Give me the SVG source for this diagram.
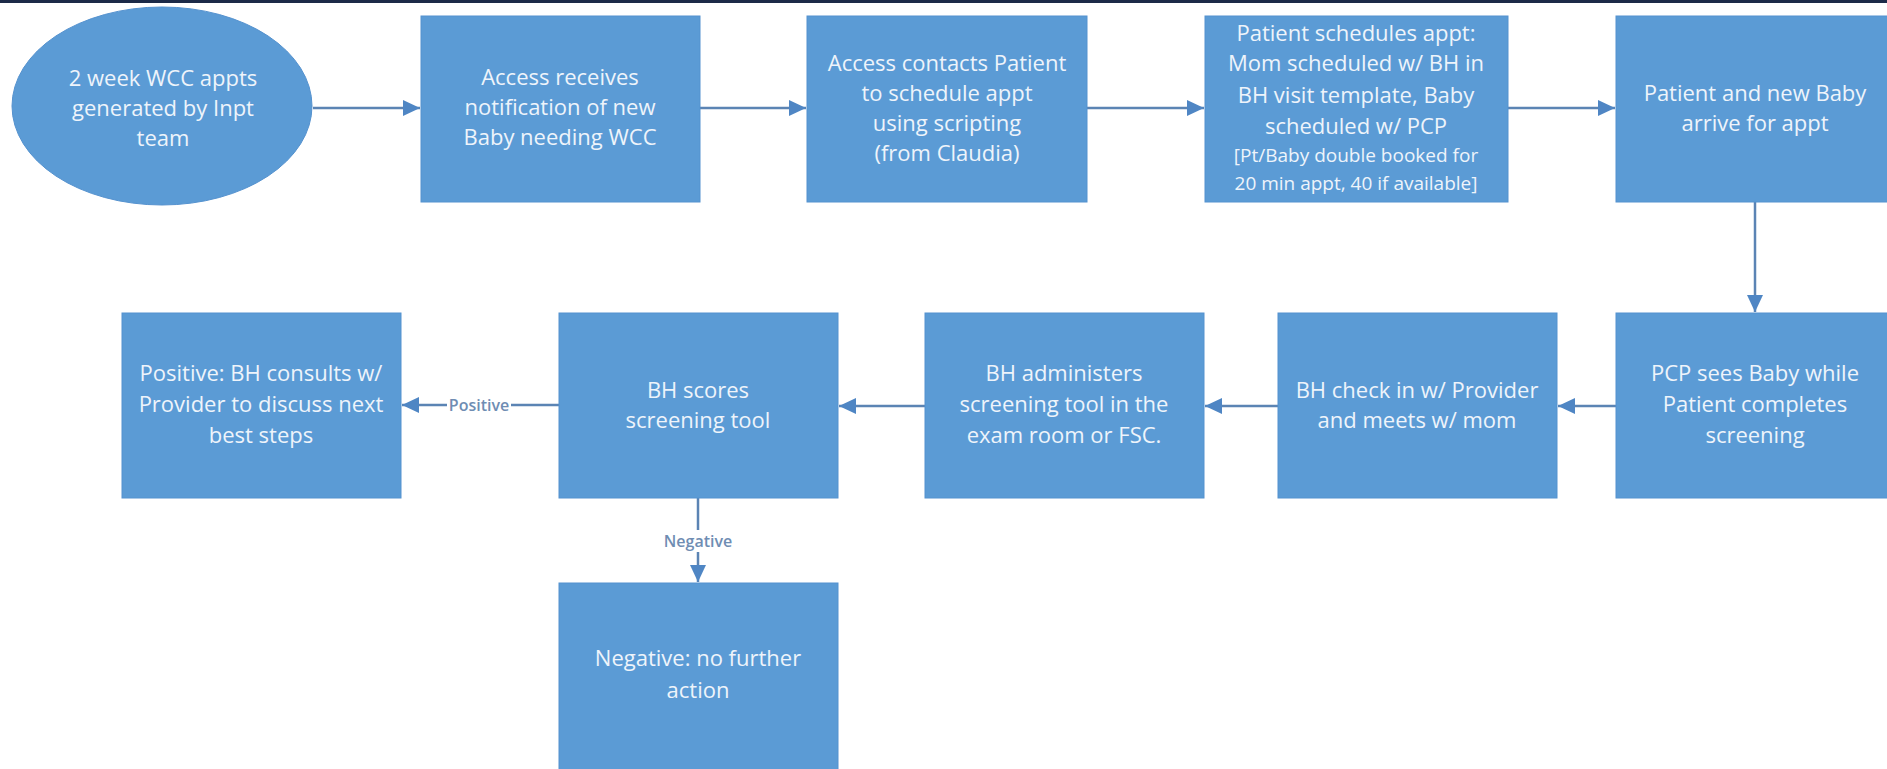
<svg xmlns="http://www.w3.org/2000/svg" width="1887" height="769" viewBox="0 0 1887 769">
  <style>
    .node { fill: #5b9bd5; stroke: #5592cf; stroke-width: 1; }
    .txt { font-family: "Open Sans", "Liberation Sans", sans-serif; font-size: 22px; fill: #eef4fb; text-anchor: middle; }
    .sm { font-size: 19px; }
    .edge { fill: none; stroke: #5b84b4; stroke-width: 2.5; }
    .lbl { font-family: "Open Sans", "Liberation Sans", sans-serif; font-size: 16px; font-weight: 600; fill: #6f8db3; text-anchor: middle; }
  </style>
  <defs>
    <marker id="arrow" markerUnits="userSpaceOnUse" markerWidth="18" markerHeight="18" viewBox="0 0 18 18" refX="17" refY="9" orient="auto">
      <path d="M0,1 L17,9 L0,17 z" fill="#4f86c4"/>
    </marker>
  </defs>

  <rect x="0" y="0" width="1887" height="769" fill="#ffffff"/>
  <rect x="0" y="0" width="1887" height="3" fill="#1c2a48"/>

  <!-- connectors -->
  <g id="connectors">
    <path class="edge" d="M313,108 H420" marker-end="url(#arrow)"/>
    <path class="edge" d="M700,108 H806" marker-end="url(#arrow)"/>
    <path class="edge" d="M1087,108 H1204" marker-end="url(#arrow)"/>
    <path class="edge" d="M1508,108 H1615" marker-end="url(#arrow)"/>
    <path class="edge" d="M1755,202 V312" marker-end="url(#arrow)"/>
    <path class="edge" d="M1616,406 H1558" marker-end="url(#arrow)"/>
    <path class="edge" d="M1278,406 H1205" marker-end="url(#arrow)"/>
    <path class="edge" d="M925,406 H839" marker-end="url(#arrow)"/>
    <path class="edge" d="M559,405 H402" marker-end="url(#arrow)"/>
    <path class="edge" d="M698,498 V582" marker-end="url(#arrow)"/>
    <rect x="447" y="394" width="64" height="22" fill="#ffffff"/>
    <text class="lbl" x="479" y="411">Positive</text>
    <rect x="660" y="530" width="76" height="22" fill="#ffffff"/>
    <text class="lbl" x="698" y="547">Negative</text>
  </g>

  <g id="n-start">
    <ellipse class="node" cx="162" cy="106" rx="150" ry="99"/>
    <text class="txt" x="163" y="86">2 week WCC appts</text>
    <text class="txt" x="163" y="116">generated by Inpt</text>
    <text class="txt" x="163" y="146">team</text>
  </g>

  <g id="n-access-notify">
    <rect class="node" x="421" y="16" width="279" height="186"/>
    <text class="txt" x="560" y="85">Access receives</text>
    <text class="txt" x="560" y="115">notification of new</text>
    <text class="txt" x="560" y="145">Baby needing WCC</text>
  </g>

  <g id="n-access-contact">
    <rect class="node" x="807" y="16" width="280" height="186"/>
    <text class="txt" x="947" y="71">Access contacts Patient</text>
    <text class="txt" x="947" y="101">to schedule appt</text>
    <text class="txt" x="947" y="131">using scripting</text>
    <text class="txt" x="947" y="161">(from Claudia)</text>
  </g>

  <g id="n-schedule">
    <rect class="node" x="1205" y="16" width="303" height="186"/>
    <text class="txt" x="1356" y="41">Patient schedules appt:</text>
    <text class="txt" x="1356" y="71">Mom scheduled w/ BH in</text>
    <text class="txt" x="1356" y="103">BH visit template, Baby</text>
    <text class="txt" x="1356" y="134">scheduled w/ PCP</text>
    <text class="txt sm" x="1356" y="162">[Pt/Baby double booked for</text>
    <text class="txt sm" x="1356" y="190">20 min appt, 40 if available]</text>
  </g>

  <g id="n-arrive">
    <rect class="node" x="1616" y="16" width="279" height="186"/>
    <text class="txt" x="1755" y="101">Patient and new Baby</text>
    <text class="txt" x="1755" y="131">arrive for appt</text>
  </g>

  <g id="n-pcp">
    <rect class="node" x="1616" y="313" width="279" height="185"/>
    <text class="txt" x="1755" y="381">PCP sees Baby while</text>
    <text class="txt" x="1755" y="412">Patient completes</text>
    <text class="txt" x="1755" y="443">screening</text>
  </g>

  <g id="n-bh-checkin">
    <rect class="node" x="1278" y="313" width="279" height="185"/>
    <text class="txt" x="1417" y="398">BH check in w/ Provider</text>
    <text class="txt" x="1417" y="428">and meets w/ mom</text>
  </g>

  <g id="n-bh-administer">
    <rect class="node" x="925" y="313" width="279" height="185"/>
    <text class="txt" x="1064" y="381">BH administers</text>
    <text class="txt" x="1064" y="412">screening tool in the</text>
    <text class="txt" x="1064" y="443">exam room or FSC.</text>
  </g>

  <g id="n-bh-scores">
    <rect class="node" x="559" y="313" width="279" height="185"/>
    <text class="txt" x="698" y="398">BH scores</text>
    <text class="txt" x="698" y="428">screening tool</text>
  </g>

  <g id="n-positive">
    <rect class="node" x="122" y="313" width="279" height="185"/>
    <text class="txt" x="261" y="381">Positive: BH consults w/</text>
    <text class="txt" x="261" y="412">Provider to discuss next</text>
    <text class="txt" x="261" y="443">best steps</text>
  </g>

  <g id="n-negative">
    <rect class="node" x="559" y="583" width="279" height="200"/>
    <text class="txt" x="698" y="666">Negative: no further</text>
    <text class="txt" x="698" y="698">action</text>
  </g>
</svg>
